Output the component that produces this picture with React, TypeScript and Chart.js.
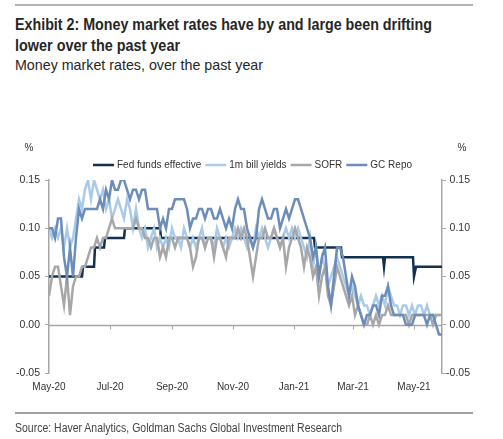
import React, { useEffect, useLayoutEffect, useRef } from "react";
import { Chart, registerables } from "chart.js";

Chart.register(...registerables);

// X axis runs in days since 1 May 2020
const xMaxDay = 393;
const monthTickDays = [0, 61, 123, 184, 245, 304, 365];
const monthTickLabels = ["May-20", "Jul-20", "Sep-20", "Nov-20", "Jan-21", "Mar-21", "May-21"];
const rateTicks = [-0.05, 0, 0.05, 0.1, 0.15];

const seriesNames = ["Fed funds effective", "1m bill yields", "SOFR", "GC Repo"];
const seriesColors = ["#13304f", "#a9cbe8", "#a7a7a7", "#6c8dba"];

// Fed funds effective: step changes (day, rate)
const fedFundsDays = [0, 33, 34, 45, 46, 55, 56, 75, 76, 111, 112, 265, 266, 292, 293, 334, 335, 336, 364, 365, 367, 393];
const fedFundsRates = [0.05, 0.05, 0.06, 0.06, 0.08, 0.08, 0.09, 0.09, 0.1, 0.1, 0.09, 0.09, 0.08, 0.08, 0.07, 0.07, 0.06, 0.07, 0.07, 0.05, 0.06, 0.06];

// Other series sampled every 3 days from 1 May 2020
const sampleStepDays = 3;

const billYields = [
  0.10, 0.09, 0.10, 0.09, 0.10, 0.08, 0.10, 0.08, 0.09, 0.11,
  0.13, 0.12, 0.14, 0.15, 0.13, 0.15, 0.14, 0.13, 0.14, 0.12,
  0.13, 0.11, 0.12, 0.13, 0.12, 0.11, 0.13, 0.12, 0.10, 0.12,
  0.10, 0.09, 0.10, 0.08, 0.09, 0.10, 0.08, 0.09, 0.08, 0.09,
  0.08, 0.10, 0.09, 0.09, 0.08, 0.10, 0.09, 0.08, 0.09, 0.08,
  0.09, 0.10, 0.08, 0.09, 0.09, 0.08, 0.10, 0.09, 0.08, 0.09,
  0.08, 0.09, 0.10, 0.09, 0.10, 0.09, 0.08, 0.09, 0.08, 0.10,
  0.09, 0.10, 0.09, 0.08, 0.09, 0.10, 0.09, 0.08, 0.09, 0.10,
  0.09, 0.10, 0.09, 0.10, 0.09, 0.08, 0.07, 0.09, 0.06, 0.08,
  0.05, 0.07, 0.06, 0.04, 0.05, 0.06, 0.07, 0.06, 0.05, 0.04,
  0.03, 0.04, 0.03, 0.02, 0.03, 0.02, 0.02, 0.01, 0.02, 0.03,
  0.02, 0.03, 0.02, 0.04, 0.03, 0.02, 0.02, 0.01, 0.02, 0.02,
  0.01, 0.02, 0.01, 0.02, 0.02, 0.01, 0.02, 0.01, 0.01, 0.01,
  0.01, 0.01,
];

const sofrRates = [
  0.03, 0.05, 0.06, 0.06, 0.04, 0.02, 0.05, 0.01, 0.04, 0.05,
  0.05, 0.06, 0.06, 0.07, 0.08, 0.08, 0.09, 0.08, 0.09, 0.09,
  0.10, 0.11, 0.10, 0.10, 0.10, 0.10, 0.10, 0.10, 0.10, 0.11,
  0.10, 0.10, 0.09, 0.09, 0.08, 0.09, 0.09, 0.07, 0.08, 0.07,
  0.09, 0.09, 0.08, 0.09, 0.09, 0.09, 0.09, 0.08, 0.06, 0.07,
  0.09, 0.09, 0.08, 0.09, 0.09, 0.07, 0.09, 0.09, 0.08, 0.07,
  0.09, 0.09, 0.09, 0.10, 0.09, 0.10, 0.09, 0.07, 0.05, 0.07,
  0.09, 0.09, 0.10, 0.09, 0.09, 0.10, 0.09, 0.08, 0.09, 0.06,
  0.08, 0.09, 0.10, 0.09, 0.08, 0.06, 0.08, 0.07, 0.05, 0.06,
  0.03, 0.05, 0.06, 0.03, 0.02, 0.04, 0.06, 0.05, 0.04, 0.03,
  0.02, 0.03, 0.01, 0.02, 0.01, 0.00, 0.00, 0.01, 0.00, 0.01,
  0.00, 0.01, 0.01, 0.02, 0.01, 0.01, 0.01, 0.01, 0.01, 0.01,
  0.00, 0.01, 0.01, 0.01, 0.01, 0.01, 0.01, 0.01, 0.00, 0.01,
  0.01, 0.01,
];

const gcRepoRates = [
  0.10, 0.10, 0.09, 0.11, 0.11, 0.07, 0.05, 0.08, 0.05, 0.09,
  0.12, 0.11, 0.12, 0.12, 0.12, 0.12, 0.12, 0.13, 0.12, 0.14,
  0.13, 0.15, 0.14, 0.14, 0.15, 0.15, 0.14, 0.13, 0.14, 0.14,
  0.13, 0.14, 0.14, 0.12, 0.12, 0.12, 0.12, 0.10, 0.11, 0.10,
  0.12, 0.12, 0.13, 0.13, 0.13, 0.13, 0.12, 0.10, 0.11, 0.11,
  0.12, 0.12, 0.11, 0.12, 0.12, 0.11, 0.11, 0.12, 0.11, 0.10,
  0.11, 0.10, 0.12, 0.13, 0.12, 0.12, 0.10, 0.09, 0.08, 0.09,
  0.12, 0.13, 0.12, 0.11, 0.11, 0.12, 0.12, 0.10, 0.11, 0.12,
  0.11, 0.12, 0.13, 0.13, 0.12, 0.11, 0.10, 0.09, 0.07, 0.08,
  0.05, 0.07, 0.08, 0.04, 0.02, 0.05, 0.08, 0.08, 0.07, 0.05,
  0.03, 0.05, 0.04, 0.02, 0.01, 0.00, 0.01, 0.01, 0.02, 0.02,
  0.01, 0.03, 0.03, 0.04, 0.02, 0.01, 0.01, 0.01, 0.01, 0.00,
  0.00, 0.00, 0.01, 0.01, 0.01, 0.01, 0.00, 0.01, 0.01, 0.00,
  -0.01, -0.01,
];

const AXIS_COLOR = "#a6a6a6";
const TEXT_COLOR = "#333333";
const AXIS_FONT = "'Liberation Sans', Arial, sans-serif";

const sampled = (values: number[]) =>
  values.map((v, i) => ({ x: i * sampleStepDays, y: v }));

const decorPlugin = {
  id: "decor",
  beforeDatasetsDraw(chart: any) {
    const { ctx, chartArea, scales } = chart;
    const y0 = Math.round(scales.y.getPixelForValue(0)) + 0.5;
    ctx.save();
    ctx.strokeStyle = AXIS_COLOR;
    ctx.lineWidth = 1.5;
    ctx.beginPath();
    ctx.moveTo(chartArea.left, y0);
    ctx.lineTo(chartArea.right, y0);
    ctx.stroke();
    ctx.lineWidth = 1;
    ctx.beginPath();
    monthTickDays.forEach((d) => {
      if (d === 0) return;
      const x = Math.round(scales.x.getPixelForValue(d)) + 0.5;
      ctx.moveTo(x, y0);
      ctx.lineTo(x, y0 + 4);
    });
    ctx.stroke();
    ctx.restore();
  },
  afterDraw(chart: any) {
    const { ctx, chartArea } = chart;
    ctx.save();
    ctx.font = `10px ${AXIS_FONT}`;
    ctx.fillStyle = TEXT_COLOR;
    ctx.textBaseline = "middle";
    // unit markers above both axes
    ctx.textAlign = "center";
    ctx.fillText("%", chartArea.left - 20, chartArea.top - 32);
    ctx.fillText("%", chartArea.right + 20, chartArea.top - 32);
    // legend row
    ctx.textAlign = "left";
    let x = 93;
    const y = chartArea.top - 15;
    seriesNames.forEach((name, i) => {
      ctx.strokeStyle = seriesColors[i];
      ctx.lineWidth = 2.5;
      ctx.beginPath();
      ctx.moveTo(x, y);
      ctx.lineTo(x + 21, y);
      ctx.stroke();
      x += 24;
      ctx.fillText(name, x, y);
      x += ctx.measureText(name).width + 4;
    });
    ctx.restore();
  },
};

// A single line of text squeezed horizontally to a given width (condensed look)
function NarrowLine(props: {
  text: string;
  left: number;
  top: number;
  width: number;
  size: number;
  bold?: boolean;
  color: string;
}) {
  const ref = useRef<HTMLDivElement | null>(null);
  useLayoutEffect(() => {
    const el = ref.current;
    if (!el) return;
    el.style.transform = "none";
    const w = el.getBoundingClientRect().width;
    if (w > 0) el.style.transform = `scaleX(${props.width / w})`;
  }, [props.text, props.width]);
  return (
    <div
      ref={ref}
      style={{
        position: "absolute",
        left: props.left,
        top: props.top,
        fontFamily: AXIS_FONT,
        fontWeight: props.bold ? "bold" : "normal",
        fontSize: props.size,
        lineHeight: `${props.size}px`,
        color: props.color,
        whiteSpace: "nowrap",
        transformOrigin: "left top",
      }}
    >
      {props.text}
    </div>
  );
}

function RatesChart() {
  const canvasRef = useRef<HTMLCanvasElement | null>(null);

  useEffect(() => {
    if (!canvasRef.current) return;
    const lineStyle = {
      borderWidth: 2.5,
      pointRadius: 0,
      tension: 0,
      fill: false,
    };
    const rateAxis = (position: "left" | "right") => ({
      type: "linear" as const,
      position,
      min: -0.05,
      max: 0.15,
      afterBuildTicks: (scale: any) => {
        scale.ticks = rateTicks.map((v) => ({ value: v }));
      },
      ticks: {
        color: TEXT_COLOR,
        font: { family: AXIS_FONT, size: 10.5 },
        padding: 5,
        crossAlign: position === "right" ? ("far" as const) : ("near" as const),
        callback: (v: any) => Number(v).toFixed(2),
      },
      grid: {
        drawOnChartArea: false,
        drawTicks: true,
        tickLength: 4,
        color: AXIS_COLOR,
      },
      border: { display: true, color: AXIS_COLOR, width: 1.5 },
      afterFit: (scale: any) => {
        scale.width = position === "left" ? 49 : 28;
      },
    });

    const chart = new Chart(canvasRef.current, {
      type: "line",
      data: {
        datasets: [
          {
            label: seriesNames[0],
            data: fedFundsDays.map((d, i) => ({ x: d, y: fedFundsRates[i] })),
            borderColor: seriesColors[0],
            order: 4,
            ...lineStyle,
          },
          {
            label: seriesNames[1],
            data: sampled(billYields),
            borderColor: seriesColors[1],
            order: 3,
            ...lineStyle,
          },
          {
            label: seriesNames[2],
            data: sampled(sofrRates),
            borderColor: seriesColors[2],
            order: 2,
            ...lineStyle,
          },
          {
            label: seriesNames[3],
            data: sampled(gcRepoRates),
            borderColor: seriesColors[3],
            order: 1,
            ...lineStyle,
          },
        ],
      },
      options: {
        responsive: false,
        animation: false,
        devicePixelRatio: 1,
        layout: { padding: { top: 180, bottom: 44, left: 0, right: 33 } },
        plugins: {
          legend: { display: false },
          tooltip: { enabled: false },
        },
        scales: {
          x: {
            type: "linear",
            min: 0,
            max: xMaxDay,
            afterBuildTicks: (scale: any) => {
              scale.ticks = monthTickDays.map((v) => ({ value: v }));
            },
            ticks: {
              color: TEXT_COLOR,
              font: { family: AXIS_FONT, size: 10 },
              padding: 8,
              maxRotation: 0,
              autoSkip: false,
              callback: (v: any) => {
                const idx = monthTickDays.indexOf(Number(v));
                return idx >= 0 ? monthTickLabels[idx] : "";
              },
            },
            grid: { display: false, drawTicks: false },
            border: { display: false },
            afterFit: (scale: any) => {
              scale.height = 22;
            },
          },
          y: rateAxis("left"),
          y2: rateAxis("right"),
        },
      },
      plugins: [decorPlugin],
    });
    return () => chart.destroy();
  }, []);

  return (
    <canvas
      ref={canvasRef}
      width={503}
      height={439}
      style={{ position: "absolute", left: 0, top: 0, width: 503, height: 439 }}
    />
  );
}

export default function App() {
  return (
    <div
      style={{
        position: "absolute",
        left: 0,
        top: 0,
        width: 503,
        height: 439,
        background: "#ffffff",
        overflow: "hidden",
      }}
    >
      <div
        style={{
          position: "absolute",
          left: 15,
          top: 4,
          width: 458,
          height: 2,
          background: "#b3b3b3",
        }}
      />
      <NarrowLine
        text="Exhibit 2: Money market rates have by and large been drifting"
        left={15}
        top={16.5}
        width={417}
        size={16}
        bold
        color="#262626"
      />
      <NarrowLine
        text="lower over the past year"
        left={15}
        top={37.5}
        width={165}
        size={16}
        bold
        color="#262626"
      />
      <NarrowLine
        text="Money market rates, over the past year"
        left={15}
        top={56.5}
        width={248}
        size={15}
        color="#262626"
      />
      <RatesChart />
      <div
        style={{
          position: "absolute",
          left: 15,
          top: 412,
          width: 458,
          height: 2,
          background: "#a0a0a0",
        }}
      />
      <NarrowLine
        text="Source: Haver Analytics, Goldman Sachs Global Investment Research"
        left={15}
        top={421.5}
        width={327}
        size={12.5}
        color="#444444"
      />
    </div>
  );
}
